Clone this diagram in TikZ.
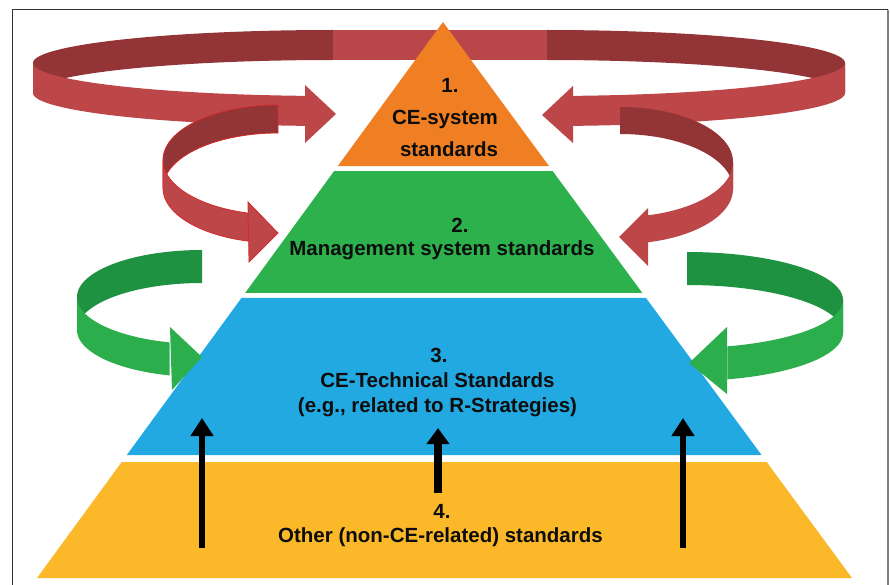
\documentclass[tikz,border=0pt]{standalone}
\usepackage{fontspec}
\setmainfont{Liberation Sans}
\usetikzlibrary{arrows.meta,calc}

\definecolor{rdark}{HTML}{933437}
\definecolor{rlight}{HTML}{BC4648}
\definecolor{rmid}{HTML}{B9474A}
\definecolor{redline}{HTML}{D42A2A}
\definecolor{gdark}{HTML}{1E9241}
\definecolor{glight}{HTML}{2BAE4B}
\definecolor{corange}{HTML}{EF7F22}
\definecolor{cgreen}{HTML}{2CB14D}
\definecolor{cblue}{HTML}{22A9E1}
\definecolor{cyellow}{HTML}{FBB829}

% A vertical belt of height #6 following the ellipse (centre #2,#3; radii #4,#5)
% between the angles #7 and #8, filled with style #1.
\newcommand{\beltband}[8]{%
  \fill[#1] plot[domain=#7:#8,samples=60] ({#2+#4*cos(\x)},{#3+#5*sin(\x)})
    -- plot[domain=#8:#7,samples=60] ({#2+#4*cos(\x)},{#3+#5*sin(\x)+#6}) -- cycle;}

\begin{document}
\begin{tikzpicture}[x=1pt,y=-1pt,
  lbl/.style={font=\fontsize{20.5}{24}\selectfont\bfseries, text=black!95, anchor=base, inner sep=0pt},
  uparrow/.style={line width=6.5pt, black, -{Triangle[length=18pt,width=22pt]}},
  uparrowthick/.style={line width=8pt, black, -{Triangle[length=16pt,width=22pt]}},
  outlined/.style={draw=redline, line width=0.8pt}]

\useasboundingbox (0,0) rectangle (890,585);
\fill[white] (0,0) rectangle (890,585);

% frame
\draw[line width=1pt, black!80] (12,585) -- (12,10) -- (888,10);
\draw[line width=2pt, black!50] (888,10) -- (888,585);

% ---- outer red belt (behind the apex) ----
\beltband{rdark}{333}{63}{300}{33}{30}{180}{270}
\beltband{rdark}{547}{63}{298}{33}{30}{270}{360}
\fill[rmid] (333,30) rectangle (547,60);
\beltband{rlight}{333}{63}{300}{33}{30}{95.4}{180}
\beltband{rlight}{547}{63}{298}{33}{30}{0}{85}
\fill[rlight] (305,85) -- (336,114) -- (305,143) -- cycle;
\fill[rlight] (573,86) -- (542,115) -- (573,143) -- cycle;

% ---- pyramid ----
\coordinate (A) at (443,22);
\coordinate (BL) at (37,578);
\coordinate (BR) at (852,578);
\fill[corange] (A) -- ($(A)!0.259!(BL)$) -- ($(A)!0.259!(BR)$) -- cycle;
\fill[cgreen] ($(A)!0.268!(BL)$) -- ($(A)!0.4874!(BL)$) -- ($(A)!0.4874!(BR)$) -- ($(A)!0.268!(BR)$) -- cycle;
\fill[cblue] ($(A)!0.4964!(BL)$) -- ($(A)!0.7788!(BL)$) -- ($(A)!0.7788!(BR)$) -- ($(A)!0.4964!(BR)$) -- cycle;
\fill[cyellow] ($(A)!0.7914!(BL)$) -- (BL) -- (BR) -- ($(A)!0.7914!(BR)$) -- cycle;

% ---- inner red belts ----
\beltband{rdark,outlined}{278}{160}{115}{55}{28}{180}{270}
\beltband{rlight,outlined}{278}{160}{115}{55}{28}{105}{180}
\filldraw[rlight,outlined] (248,202) -- (278,233) -- (249,262) -- cycle;

\beltband{rdark}{620}{162}{113}{55}{27}{270}{360}
\beltband{rlight}{620}{162}{113}{55}{27}{0}{76}
\fill[rlight] (648,208) -- (619,237) -- (648,266) -- cycle;

% ---- green belts ----
\beltband{gdark}{202}{297}{125}{47}{33}{180}{270}
\beltband{glight}{202}{297}{125}{47}{33}{105}{180}
\fill[glight] (170,327) -- (202,357) -- (172,390) -- cycle;

\beltband{gdark}{687}{300}{156}{48}{33}{270}{360}
\beltband{glight}{687}{300}{156}{48}{33}{0}{75}
\fill[glight] (727,327) -- (689,363) -- (727,394) -- cycle;

% ---- labels ----
\node[lbl] (t1a) at (450,93) {1.};
\node[lbl] (t1b) at (445,125) {CE-system};
\node[lbl] (t1c) at (449,157) {standards};
\node[lbl] (t2a) at (460,232) {2.};
\node[lbl] (t2b) at (442,255) {Management system standards};
\node[lbl] (t3a) at (439,362) {3.};
\node[lbl] (t3b) at (437.5,387) {CE-Technical Standards};
\node[lbl] (t3c) at (437.5,412) {(e.g., related to R-Strategies)};
\node[lbl] (t4a) at (442,518) {4.};
\node[lbl] (t4b) at (440.5,542) {Other (non-CE-related) standards};

% ---- upward arrows ----
\coordinate (p1s) at (202,548); \coordinate (p1e) at (202,418);
\coordinate (p2s) at (438,493); \coordinate (p2e) at (438,428);
\coordinate (p3s) at (683,548); \coordinate (p3e) at (683,418);
\draw[uparrow] (p1s) -- (p1e);
\draw[uparrowthick] (p2s) -- (p2e);
\draw[uparrow] (p3s) -- (p3e);
\end{tikzpicture}
\end{document}
